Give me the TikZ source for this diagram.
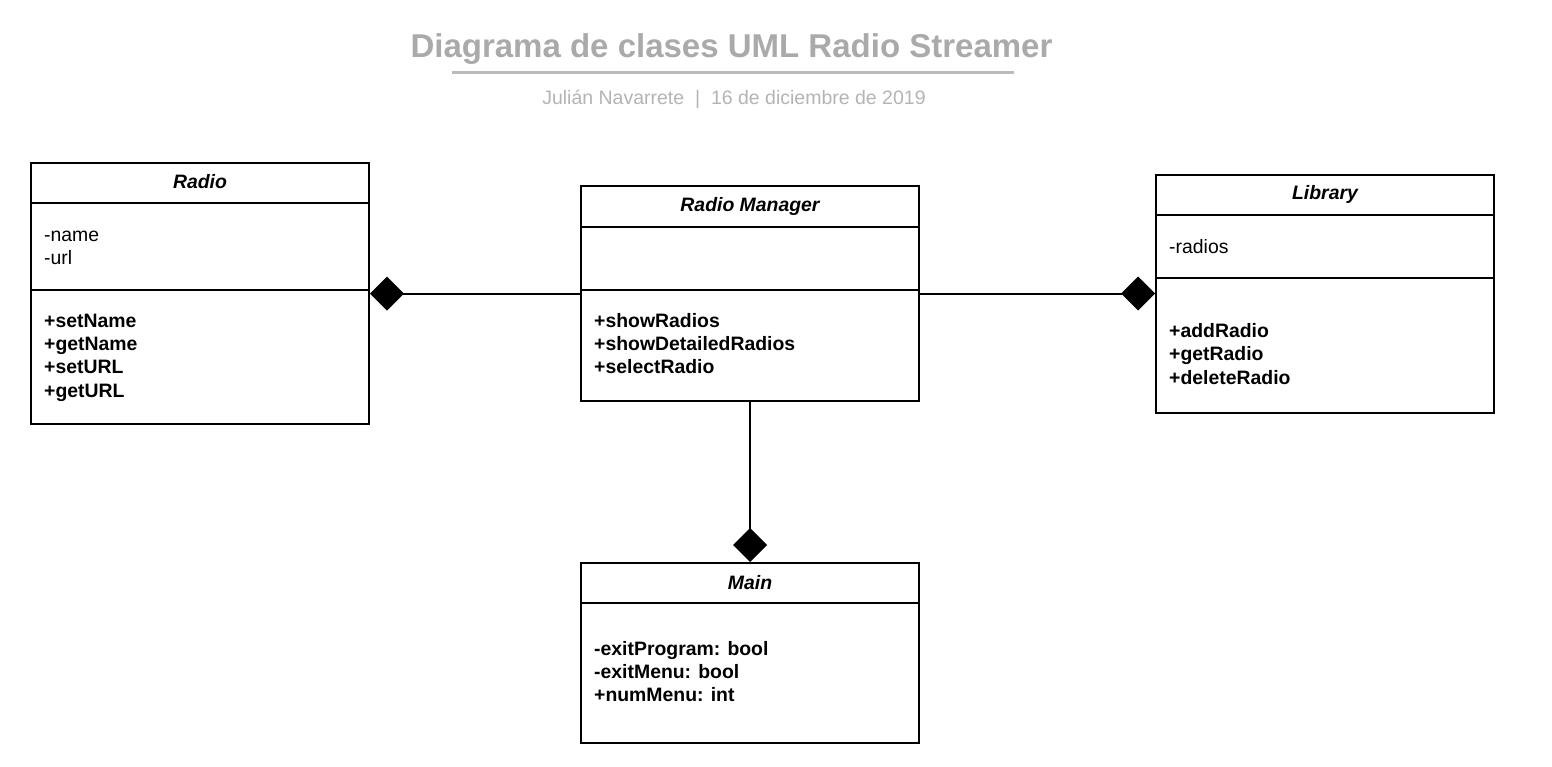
\documentclass[tikz,border=0pt]{standalone}
\usepackage{fontspec}
\setmainfont{Liberation Sans}
\usetikzlibrary{arrows.meta}
\definecolor{titlegray}{RGB}{170,170,170}
\definecolor{subgray}{RGB}{180,180,180}
\definecolor{rulegray}{RGB}{187,187,187}
\tikzset{
  classbox/.style={draw=black, line width=2pt, rectangle, inner sep=0pt},
  divider/.style={draw=black, line width=2pt},
  header/.style={anchor=base, inner sep=0pt, font=\fontsize{19.4}{23}\selectfont\bfseries\itshape},
  attr/.style={anchor=base west, inner sep=0pt, font=\fontsize{19.4}{23}\selectfont},
  meth/.style={anchor=base west, inner sep=0pt, font=\fontsize{19.4}{23}\selectfont\bfseries},
  comp/.style={draw=black, line width=2pt, -{Diamond[length=34pt 0, width=34pt 0, fill=black]}},
}
\begin{document}
\begin{tikzpicture}[x=1pt,y=-1pt]
\useasboundingbox[fill=white] (0,0) rectangle (1552,766);
% title
\node[anchor=base, inner sep=0pt, text=titlegray, font=\fontsize{33}{38}\selectfont\bfseries] (title) at (731.5,57) {Diagrama de clases UML Radio Streamer};
\coordinate (rl) at (452,72.7);
\coordinate (rr) at (1014,72.7);
\draw[rulegray, line width=2.5pt] (rl) -- (rr);
\node[anchor=base, inner sep=0pt, text=subgray, font=\fontsize{19.5}{23}\selectfont] (sub) at (734,104.5) {Julián Navarrete~~|~~16 de diciembre de 2019};

% Radio
\node[classbox, minimum width=338pt, minimum height=261pt] (radio) at (200,293.5) {};
\draw[divider] (31,203) -- (369,203);
\draw[divider] (31,290) -- (369,290);
\node[header] (radioh) at (200,188) {Radio};
\node[attr] (ra1) at (44,241) {-name};
\node[attr] (ra2) at (44,264) {-url};
\node[meth] (rm1) at (44,327.7) {+setName};
\node[meth] (rm2) at (44,350.7) {+getName};
\node[meth] (rm3) at (44,373.7) {+setURL};
\node[meth] (rm4) at (44,397) {+getURL};

% Radio Manager
\node[classbox, minimum width=338pt, minimum height=215pt] (mgr) at (750,293.5) {};
\draw[divider] (581,227) -- (919,227);
\draw[divider] (581,290) -- (919,290);
\node[header] (mgrh) at (750,211.7) {Radio Manager};
\node[meth] (mm1) at (594,327.7) {+showRadios};
\node[meth] (mm2) at (594,350.7) {+showDetailedRadios};
\node[meth] (mm3) at (594,373.7) {+selectRadio};

% Library
\node[classbox, minimum width=338pt, minimum height=238pt] (lib) at (1325,293.5) {};
\draw[divider] (1156,215) -- (1494,215);
\draw[divider] (1156,278) -- (1494,278);
\node[header] (libh) at (1325,199.3) {Library};
\node[attr] (la1) at (1169,253.3) {-radios};
\node[meth] (lm1) at (1169,337.7) {+addRadio};
\node[meth] (lm2) at (1169,360.7) {+getRadio};
\node[meth] (lm3) at (1169,384.3) {+deleteRadio};

% Main
\node[classbox, minimum width=338pt, minimum height=180pt] (main) at (750,653) {};
\draw[divider] (581,603) -- (919,603);
\node[header] (mainh) at (750,589.3) {Main};
\node[meth] (ma1) at (594,655.3) {-exitProgram: bool};
\node[meth] (ma2) at (594,678.3) {-exitMenu: bool};
\node[meth] (ma3) at (594,701.3) {+numMenu: int};

% connectors
\draw[comp] (mgr.west) -- (radio.east);
\draw[comp] (mgr.east) -- (lib.west);
\draw[comp] (mgr.south) -- (main.north);
\end{tikzpicture}
\end{document}
